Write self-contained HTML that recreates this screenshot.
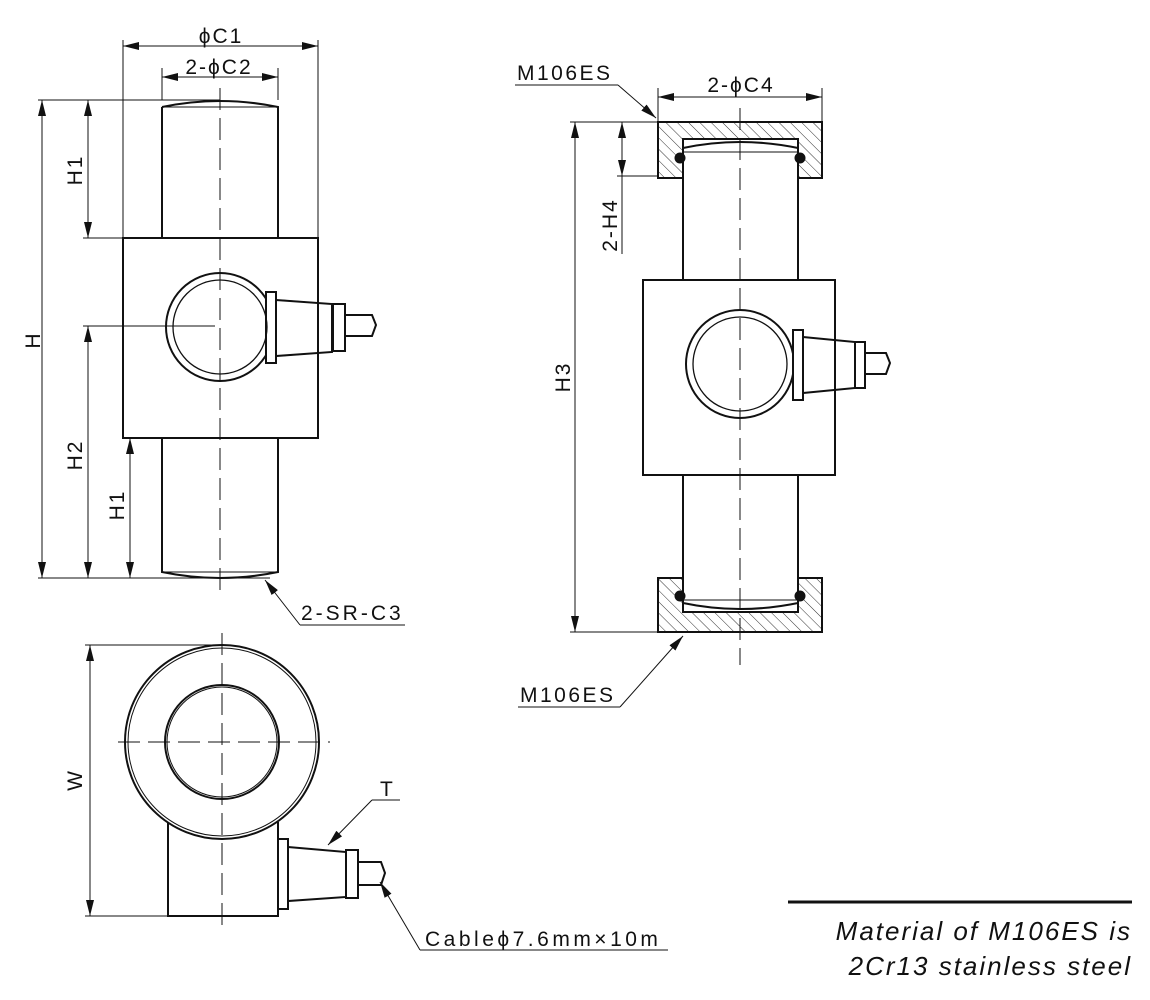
<!DOCTYPE html>
<html><head><meta charset="utf-8"><style>
html,body{margin:0;padding:0;background:#fff;}
svg{display:block;}
text{font-family:"Liberation Sans",sans-serif;fill:#111;}
</style></head><body>
<svg width="1150" height="1000" viewBox="0 0 1150 1000" xmlns="http://www.w3.org/2000/svg">
<defs>
<marker id="a" viewBox="0 0 16 8" refX="16" refY="4" markerWidth="16" markerHeight="8" markerUnits="userSpaceOnUse" orient="auto-start-reverse"><path d="M0,0 L16,4 L0,8 Z" fill="#111"/></marker>
<pattern id="h" width="8" height="8" patternUnits="userSpaceOnUse" patternTransform="rotate(-45)"><line x1="0" y1="0" x2="0" y2="8" stroke="#333" stroke-width="1"/></pattern>
</defs>
<g stroke="#111" fill="none" stroke-width="1">
<g stroke-width="2">
<path d="M162,107 Q220,95 278,107 L278,238 M162,107 L162,238"/>
<rect x="123" y="238" width="195" height="200"/>
<path d="M162,438 L162,572 Q220,584 278,572 L278,438"/>
<circle cx="220" cy="327" r="54"/>
<rect x="266" y="292" width="10" height="71" fill="#fff"/>
<path d="M276,300 L332,304 L332,352 L276,356 Z"/>
<rect x="333" y="304" width="12" height="47"/>
<path d="M345,315 L372,315 L376,325 L372,336 L345,336"/>
</g>
<circle cx="220" cy="327" r="47" stroke-width="1.3"/>
<line x1="162" y1="572" x2="278" y2="572"/>
<line x1="162" y1="107" x2="278" y2="107"/>
<line x1="280" y1="300" x2="332" y2="304"/><line x1="280" y1="356" x2="332" y2="352"/>
<line x1="220" y1="88" x2="220" y2="592" stroke-dasharray="22,8"/>
<line x1="123" y1="40" x2="123" y2="238"/><line x1="318" y1="40" x2="318" y2="238"/>
<line x1="123" y1="46" x2="318" y2="46" marker-start="url(#a)" marker-end="url(#a)"/>
<line x1="162" y1="68" x2="162" y2="100"/><line x1="278" y1="68" x2="278" y2="100"/>
<line x1="162" y1="77" x2="278" y2="77" marker-start="url(#a)" marker-end="url(#a)"/>
<line x1="38" y1="100" x2="220" y2="100"/>
<line x1="83" y1="238" x2="123" y2="238"/>
<line x1="83" y1="326" x2="215" y2="326"/>
<line x1="38" y1="578" x2="270" y2="578"/>
<line x1="42" y1="100" x2="42" y2="578" marker-start="url(#a)" marker-end="url(#a)"/>
<line x1="88" y1="100" x2="88" y2="238" marker-start="url(#a)" marker-end="url(#a)"/>
<line x1="88" y1="326" x2="88" y2="578" marker-start="url(#a)" marker-end="url(#a)"/>
<line x1="130" y1="438" x2="130" y2="578" marker-start="url(#a)" marker-end="url(#a)"/>
<line x1="300" y1="625" x2="265" y2="580" marker-end="url(#a)"/>
<line x1="300" y1="625" x2="405" y2="625"/>
<path d="M658,122 H822 V178 H798 V139 H683 V178 H658 Z" fill="url(#h)" stroke-width="2"/>
<path d="M658,632 H822 V578 H798 V612 H683 V578 H658 Z" fill="url(#h)" stroke-width="2"/>
<g stroke-width="2">
<path d="M683,148 Q740,136 798,148 M683,139 V280 M798,139 V280"/>
<rect x="643" y="280" width="192" height="195"/>
<path d="M683,475 V612 M798,475 V612 M683,603 Q740,615 798,603"/>
<circle cx="740" cy="364" r="54"/>
<rect x="793" y="330" width="10" height="70" fill="#fff"/>
<path d="M803,337 L855,342 L855,388 L803,393 Z"/>
<rect x="855" y="342" width="10" height="46"/>
<path d="M865,353 L886,353 L890,363 L886,374 L865,374"/>
</g>
<circle cx="740" cy="364" r="47" stroke-width="1.3"/>
<line x1="683" y1="152" x2="798" y2="152"/><line x1="683" y1="600" x2="798" y2="600"/>
<circle cx="680" cy="158" r="5" fill="#111"/><circle cx="800" cy="158" r="5" fill="#111"/>
<circle cx="680" cy="596" r="5" fill="#111"/><circle cx="800" cy="596" r="5" fill="#111"/>
<line x1="740" y1="108" x2="740" y2="665" stroke-dasharray="22,8"/>
<line x1="658" y1="88" x2="658" y2="122"/><line x1="822" y1="88" x2="822" y2="122"/>
<line x1="658" y1="97" x2="822" y2="97" marker-start="url(#a)" marker-end="url(#a)"/>
<line x1="570" y1="122" x2="658" y2="122"/>
<line x1="617" y1="176" x2="658" y2="176"/>
<line x1="570" y1="632" x2="658" y2="632"/>
<line x1="622" y1="122" x2="622" y2="176" marker-start="url(#a)" marker-end="url(#a)"/>
<line x1="622" y1="176" x2="622" y2="254"/>
<line x1="575" y1="122" x2="575" y2="632" marker-start="url(#a)" marker-end="url(#a)"/>
<line x1="515" y1="85" x2="618" y2="85"/>
<line x1="618" y1="85" x2="656" y2="118" marker-end="url(#a)"/>
<line x1="518" y1="707" x2="620" y2="707"/>
<line x1="620" y1="707" x2="683" y2="636" marker-end="url(#a)"/>
<g stroke-width="2">
<path d="M168,822 V916 H278 V822"/>
<circle cx="222" cy="742" r="97" fill="#fff"/>
<circle cx="222" cy="742" r="57"/>
<rect x="278" y="839" width="10" height="70"/>
<path d="M288,847 L346,852 L346,897 L288,901 Z"/>
<rect x="346" y="850" width="12" height="48"/>
<path d="M358,862 L381,862 L385,873 L381,885 L358,885"/>
</g>
<circle cx="222" cy="742" r="94"/>
<circle cx="222" cy="742" r="55"/>
<line x1="222" y1="633" x2="222" y2="926" stroke-dasharray="22,8"/>
<line x1="118" y1="742" x2="330" y2="742" stroke-dasharray="22,8"/>
<line x1="85" y1="645" x2="222" y2="645"/>
<line x1="85" y1="916" x2="168" y2="916"/>
<line x1="90" y1="645" x2="90" y2="916" marker-start="url(#a)" marker-end="url(#a)"/>
<line x1="372" y1="800" x2="328" y2="845" marker-end="url(#a)"/>
<line x1="372" y1="800" x2="400" y2="800"/>
<line x1="420" y1="950" x2="380" y2="882" marker-end="url(#a)"/>
<line x1="420" y1="950" x2="668" y2="950"/>
<line x1="788" y1="902" x2="1132" y2="902" stroke-width="3"/>
</g>
<g font-size="21" letter-spacing="2">
<text x="221" y="43" text-anchor="middle">ϕC1</text>
<text x="219" y="74" text-anchor="middle">2-ϕC2</text>
<text transform="translate(40,340) rotate(-90)" text-anchor="middle">H</text>
<text transform="translate(82,170) rotate(-90)" text-anchor="middle">H1</text>
<text transform="translate(82,455) rotate(-90)" text-anchor="middle">H2</text>
<text transform="translate(124,505) rotate(-90)" text-anchor="middle">H1</text>
<text x="301" y="620" letter-spacing="3">2-SR-C3</text>
<text x="517" y="80" letter-spacing="2.5">M106ES</text>
<text x="741" y="92" text-anchor="middle">2-ϕC4</text>
<text transform="translate(617,225) rotate(-90)" text-anchor="middle">2-H4</text>
<text transform="translate(570,377) rotate(-90)" text-anchor="middle">H3</text>
<text x="520" y="702" letter-spacing="2.5">M106ES</text>
<text transform="translate(82,780) rotate(-90)" text-anchor="middle">W</text>
<text x="380" y="796">T</text>
<text x="425" y="946" letter-spacing="3.5">Cableϕ7.6mm×10m</text>
</g>
<g font-size="26" font-style="italic" text-anchor="end" letter-spacing="2">
<text x="1132" y="940">Material of M106ES is</text>
<text x="1132" y="975">2Cr13 stainless steel</text>
</g>
</svg>
</body></html>
